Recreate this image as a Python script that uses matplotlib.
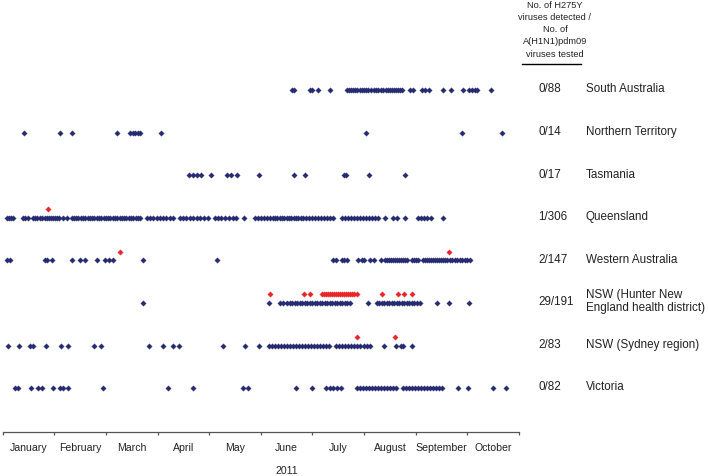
import matplotlib.pyplot as plt
from matplotlib.lines import Line2D

# x values are in fractional months from 1 January 2011 (0 = Jan 1, 10 = Nov 1)
months = ['January', 'February', 'March', 'April', 'May', 'June',
          'July', 'August', 'September', 'October']

regions = ['South Australia', 'Northern Territory', 'Tasmania', 'Queensland',
           'Western Australia', 'NSW (Hunter New\nEngland health district)',
           'NSW (Sydney region)', 'Victoria']
counts = ['0/88', '0/14', '0/17', '1/306', '2/147', '29/191', '2/83', '0/82']

sa = [5.60, 5.64, 5.95, 6.00, 6.11, 6.34, 6.67, 6.71, 6.75, 6.78, 6.82, 6.86,
      6.92, 6.96, 7.00, 7.04, 7.08, 7.13, 7.19, 7.23, 7.27, 7.33, 7.37, 7.42,
      7.46, 7.50, 7.54, 7.58, 7.62, 7.66, 7.70, 7.73, 7.89, 7.95, 8.12, 8.18,
      8.26, 8.53, 8.68, 8.92, 9.04, 9.09, 9.14, 9.19, 9.46]
nt = [0.41, 1.11, 1.34, 2.21, 2.47, 2.52, 2.57, 2.62, 2.66, 3.07, 7.03, 8.89, 9.68]
tas = [3.61, 3.69, 3.77, 3.85, 4.03, 4.34, 4.42, 4.54, 4.97, 5.64, 5.85, 6.61,
       6.65, 7.09, 7.79]
qld = [0.08, 0.12, 0.16, 0.20, 0.39, 0.43, 0.49, 0.59, 0.63, 0.66, 0.72, 0.76,
       0.82, 0.86, 0.90, 0.94, 0.97, 1.01, 1.05, 1.09, 1.17, 1.25,
       1.34, 1.38, 1.42, 1.46, 1.52, 1.56, 1.59, 1.65, 1.69, 1.73, 1.77, 1.83,
       1.87, 1.90, 1.96, 2.00, 2.04, 2.08, 2.14, 2.18, 2.21, 2.27, 2.31, 2.35,
       2.39, 2.45, 2.48, 2.52, 2.58, 2.62, 2.66,
       2.79, 2.85, 2.91, 2.99, 3.05, 3.10, 3.16, 3.24, 3.30,
       3.43, 3.49, 3.55, 3.63, 3.69, 3.76, 3.82, 3.90, 3.98,
       4.11, 4.17, 4.23, 4.31, 4.38, 4.46, 4.52, 4.67,
       4.89, 4.94, 5.00, 5.06, 5.12, 5.18, 5.24, 5.27, 5.31, 5.37, 5.41, 5.45,
       5.51, 5.55, 5.58, 5.64, 5.68, 5.72, 5.78, 5.82, 5.87, 5.93, 5.99, 6.05,
       6.11, 6.16, 6.22, 6.28, 6.34, 6.40,
       6.57, 6.63, 6.69, 6.75, 6.80, 6.86, 6.92, 6.98, 7.04, 7.10, 7.15, 7.21,
       7.27, 7.40, 7.56, 7.64, 7.79, 8.04, 8.10, 8.16, 8.22, 8.30, 8.53]
qld_h275y = [0.87]
wa = [0.09, 0.14, 0.81, 0.86, 0.95, 1.35, 1.50, 1.59, 1.83, 1.98, 2.05, 2.14,
      2.72, 4.16, 6.40, 6.45, 6.57, 6.61, 6.66, 6.89, 6.95, 7.00, 7.11, 7.20,
      7.33, 7.40, 7.44, 7.48, 7.52, 7.56, 7.60, 7.64, 7.68, 7.71, 7.75, 7.79,
      7.83, 7.93, 7.97, 8.01, 8.04, 8.14, 8.18, 8.22, 8.26, 8.30, 8.33, 8.37,
      8.41, 8.45, 8.49, 8.53, 8.57, 8.61, 8.66, 8.70, 8.76, 8.80, 8.86, 8.90,
      8.95, 8.99, 9.05]
wa_h275y = [2.28, 8.65]
hunter = [2.72, 5.16, 5.37, 5.43, 5.51, 5.56, 5.60, 5.66, 5.70, 5.76, 5.80,
          5.85, 5.89, 5.95, 5.99, 6.05, 6.09, 6.15, 6.18, 6.24, 6.28, 6.34,
          6.38, 6.44, 6.47, 6.53, 6.57, 6.63, 6.67, 6.73, 7.07, 7.25, 7.29,
          7.35, 7.39, 7.44, 7.48, 7.54, 7.58, 7.64, 7.68, 7.73, 7.77, 7.83,
          7.87, 7.93, 7.97, 8.02, 8.08, 8.41, 8.65, 9.03]
hunter_h275y = [5.18, 5.84, 5.95, 6.18, 6.22, 6.26, 6.30, 6.34, 6.38, 6.42,
                6.46, 6.49, 6.53, 6.57, 6.61, 6.65, 6.69, 6.73, 6.77, 6.80,
                6.86, 7.34, 7.66, 7.78, 7.92]
sydney = [0.11, 0.32, 0.52, 0.58, 0.83, 1.13, 1.27, 1.77, 1.90, 2.83, 3.10,
          3.29, 3.42, 4.27, 4.69, 4.96, 5.16, 5.22, 5.27, 5.33, 5.39, 5.45,
          5.51, 5.56, 5.62, 5.68, 5.74, 5.80, 5.86, 5.91, 5.97, 6.03, 6.09,
          6.15, 6.20, 6.26, 6.32, 6.46, 6.52, 6.57, 6.63, 6.69, 6.75, 6.80,
          6.86, 6.92, 7.00, 7.06, 7.11, 7.39, 7.62, 7.71, 7.76, 7.92]
sydney_h275y = [6.86, 7.60]
vic = [0.24, 0.30, 0.54, 0.69, 0.76, 0.98, 1.11, 1.17, 1.27, 1.94, 3.21, 3.69,
       4.66, 4.76, 5.68, 6.00, 6.26, 6.34, 6.40, 6.47, 6.55, 6.86, 6.92, 6.98,
       7.04, 7.09, 7.15, 7.21, 7.27, 7.33, 7.39, 7.44, 7.50, 7.56, 7.62, 7.75,
       7.81, 7.87, 7.93, 7.99, 8.04, 8.10, 8.16, 8.22, 8.28, 8.33, 8.39, 8.45,
       8.51, 8.82, 9.02, 9.50, 9.75]

tested = [sa, nt, tas, qld, wa, hunter, sydney, vic]
h275y = [[], [], [], qld_h275y, wa_h275y, hunter_h275y, sydney_h275y, []]

header = ['No. of H275Y', 'viruses detected /', 'No. of', 'A(H1N1)pdm09',
          'viruses tested']

W, H = 709, 477
navy = '#262a72'
red = '#e8262a'
txt = '#222222'

fig = plt.figure(figsize=(W / 100, H / 100), dpi=100)
ax = fig.add_axes([2.7 / W, 44 / H, 516.3 / W, 433 / H])
ax.set_xlim(0, 10)
ax.set_ylim(-8.03, 2.14)

for i, (xs, reds) in enumerate(zip(tested, h275y)):
    y = -i
    ax.plot(xs, [y] * len(xs), ls='none', marker='D', ms=2.8,
            mfc=navy, mec=navy, mew=0.2, clip_on=False)
    if reds:
        ax.plot(reds, [y + 0.2] * len(reds), ls='none', marker='D', ms=2.8,
                mfc=red, mec=red, mew=0.2, clip_on=False)
    ax.text(10.37, y + 0.04, counts[i], ha='left', va='center',
            fontsize=8.4, color=txt, family='Liberation Sans')
    ax.text(11.29, y + (0.06 if '\n' in regions[i] else 0.04), regions[i],
            ha='left', va='center', fontsize=8.4, color=txt,
            family='Liberation Sans', linespacing=1.1)

for s in ['top', 'left', 'right']:
    ax.spines[s].set_visible(False)
ax.spines['bottom'].set_color('#555555')
ax.spines['bottom'].set_linewidth(0.9)
ax.set_yticks([])
ax.set_xticks(range(11))
ax.set_xticklabels([])
ax.tick_params(axis='x', which='major', length=2.5, width=0.9, color='#555555')
ax.set_xticks([m + 0.5 for m in range(10)], months, minor=True)
ax.tick_params(axis='x', which='minor', length=0, pad=7.5, labelsize=7.6,
               labelcolor=txt)
for lab in ax.get_xticklabels(minor=True):
    lab.set_family('Liberation Sans')

ax.text(5.5, -8.03 - 37.7 / 42.57, '2011', ha='center', va='center',
        fontsize=7.6, color=txt, family='Liberation Sans', clip_on=False)

for j, line in enumerate(header):
    fig.text(555 / W, 1 - (5 + 12.3 * j) / H, line, ha='center', va='center',
             fontsize=6.7, color=txt, family='Liberation Sans')
fig.add_artist(Line2D([521.7 / W, 581 / W], [1 - 65 / H, 1 - 65 / H],
                      transform=fig.transFigure, color='black', lw=1.0))

fig.savefig('out.png', dpi=100)
